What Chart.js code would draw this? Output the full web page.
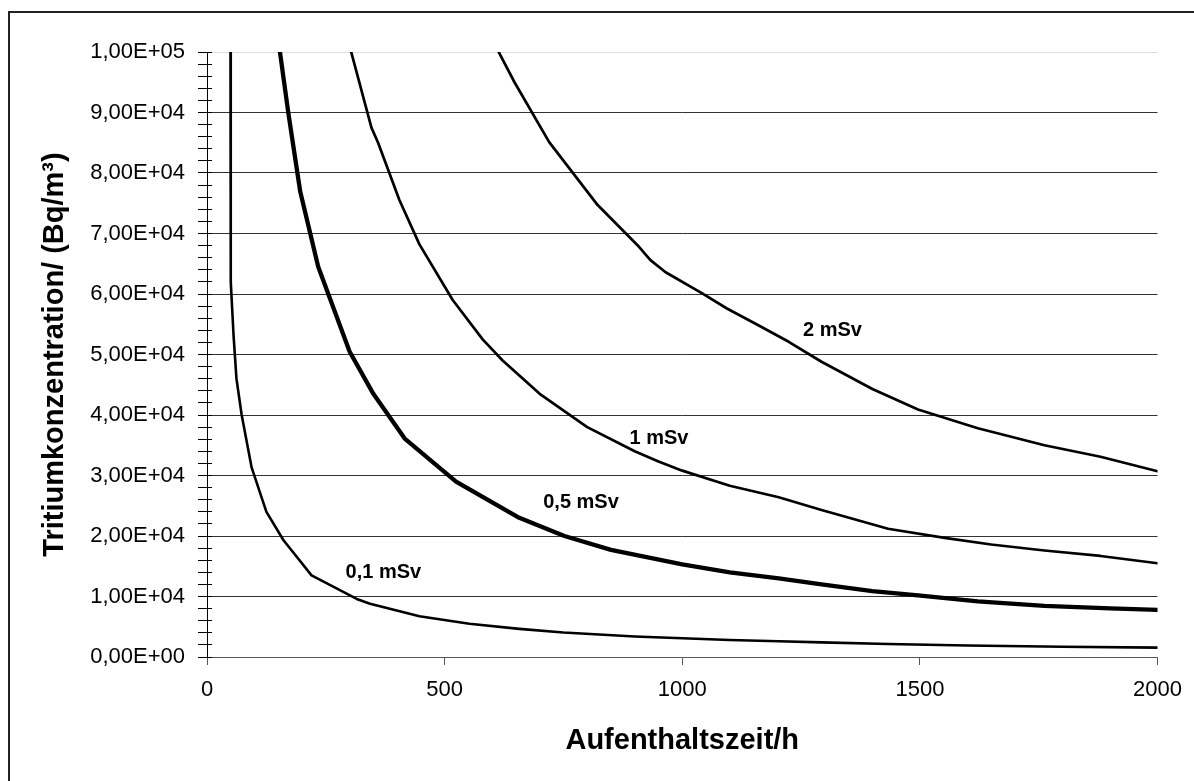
<!DOCTYPE html>
<html>
<head>
<meta charset="utf-8">
<style>
  html, body { margin: 0; padding: 0; background: #fff; }
  #wrap { width: 1194px; height: 781px; position: relative; }
</style>
<script src="https://cdn.jsdelivr.net/npm/chart.js@4.4.1/dist/chart.umd.min.js"></script>
</head>
<body>
<div id="wrap"><canvas id="c" width="1194" height="781"></canvas></div>
<script>
// ---- data ----
const seriesLabels = ['0,1 mSv', '0,5 mSv', '1 mSv', '2 mSv'];

const t01 = [49, 50, 56, 62, 73, 94, 125, 161, 220, 315, 343, 447, 552, 657, 750, 900, 1000, 1100, 1203, 1293, 1433, 1600, 1800, 2000];
const c01 = [130000, 62000, 53000, 46000, 40000, 31300, 24000, 19300, 13500, 9600, 8800, 6750, 5500, 4650, 4050, 3400, 3100, 2800, 2600, 2420, 2150, 1900, 1700, 1550];

const t05 = [150, 171, 196, 234, 300, 350, 416, 524, 657, 752, 850, 1000, 1100, 1203, 1293, 1400, 1496, 1622, 1762, 1900, 2000];
const c05 = [102000, 90000, 77000, 64500, 50500, 43500, 36100, 29000, 23000, 20000, 17700, 15300, 14000, 13000, 12000, 10900, 10200, 9200, 8450, 8050, 7800];

const t1 = [300, 346, 360, 405, 447, 517, 580, 622, 700, 800, 900, 950, 1000, 1100, 1203, 1293, 1433, 1552, 1650, 1762, 1880, 2000];
const c1 = [101000, 87500, 85000, 75500, 68200, 59000, 52500, 49000, 43500, 38000, 34000, 32300, 30800, 28300, 26400, 24300, 21200, 19700, 18600, 17600, 16700, 15500];

const t2 = [600, 615, 647, 720, 822, 909, 933, 965, 1042, 1094, 1161, 1224, 1293, 1400, 1496, 1622, 1762, 1880, 2000];
const c2 = [102500, 99800, 95000, 85100, 74700, 67800, 65600, 63600, 60100, 57600, 54800, 52100, 48800, 44300, 40900, 37800, 35000, 33100, 30700];

const xTickValues = [0, 500, 1000, 1500, 2000];
const xTickLabels = ['0', '500', '1000', '1500', '2000'];
const yTickLabels = ['0,00E+00', '1,00E+04', '2,00E+04', '3,00E+04', '4,00E+04', '5,00E+04',
                     '6,00E+04', '7,00E+04', '8,00E+04', '9,00E+04', '1,00E+05'];
const xTitle = 'Aufenthaltszeit/h';
const yTitle = 'Tritiumkonzentration/ (Bq/m³)';

// label anchors in data units (t, concentration)
const labelAnchorT = [371, 787, 951, 1316];
const labelAnchorC = [13900, 25600, 36200, 54050];

// ---- build ----
function zip(ts, cs) { return ts.map((t, i) => ({ x: t, y: cs[i] })); }
const FONT = "'Liberation Sans', Arial, Helvetica, sans-serif";
const widths = [2.6, 4.3, 2.7, 2.7];
const sets = [[t01, c01], [t05, c05], [t1, c1], [t2, c2]];

function alignPx(p, w) {
  const hw = Math.max(w / 2, 0.5);
  return Math.round(p - hw) + hw;
}

const framePlugin = {
  id: 'frame',
  beforeDraw(chart) {
    const ctx = chart.ctx;
    ctx.save();
    ctx.fillStyle = '#fff';
    ctx.fillRect(0, 0, chart.width, chart.height);
    ctx.strokeStyle = '#222';
    ctx.lineWidth = 2;
    ctx.beginPath();
    ctx.moveTo(9, chart.height + 2);
    ctx.lineTo(9, 12);
    ctx.lineTo(chart.width + 2, 12);
    ctx.stroke();
    ctx.restore();
  }
};

const innerTicksPlugin = {
  id: 'innerTicks',
  afterDatasetsDraw(chart) {
    const ys = chart.scales.y;
    const ctx = chart.ctx;
    const left = chart.chartArea.left;
    ctx.save();
    ctx.strokeStyle = '#000';
    ctx.lineWidth = 1;
    ctx.beginPath();
    ys.ticks.forEach(tk => {
      const py = alignPx(ys.getPixelForValue(tk.value), 1);
      ctx.moveTo(left, py);
      ctx.lineTo(left + 5, py);
    });
    ctx.stroke();
    ctx.restore();
  }
};

const seriesLabelPlugin = {
  id: 'seriesLabels',
  afterDatasetsDraw(chart) {
    const xs = chart.scales.x, ys = chart.scales.y;
    const ctx = chart.ctx;
    ctx.save();
    ctx.fillStyle = '#000';
    ctx.font = 'bold 20px ' + FONT;
    ctx.textAlign = 'center';
    ctx.textBaseline = 'middle';
    seriesLabels.forEach((lab, i) => {
      ctx.fillText(lab, xs.getPixelForValue(labelAnchorT[i]), ys.getPixelForValue(labelAnchorC[i]));
    });
    ctx.restore();
  }
};

new Chart(document.getElementById('c'), {
  type: 'line',
  data: {
    datasets: sets.map((s, i) => ({
      label: seriesLabels[i],
      data: zip(s[0], s[1]),
      borderColor: '#000',
      backgroundColor: '#000',
      borderWidth: widths[i],
      pointRadius: 0,
      pointHoverRadius: 0,
      tension: 0,
      fill: false,
      clip: 0,
      borderJoinStyle: 'round',
      borderCapStyle: 'round'
    }))
  },
  options: {
    responsive: false,
    devicePixelRatio: 1,
    animation: false,
    events: [],
    layout: { padding: { top: 52, right: 32, bottom: 0, left: 0 } },
    plugins: {
      legend: { display: false },
      tooltip: { enabled: false },
      title: { display: false }
    },
    scales: {
      x: {
        type: 'linear',
        min: 0,
        max: 2000,
        afterFit(scale) { scale.height = 124; },
        afterBuildTicks(scale) { scale.ticks = xTickValues.map(v => ({ value: v })); },
        ticks: {
          color: '#000',
          padding: 12,
          maxRotation: 0,
          autoSkip: false,
          font: { family: FONT, size: 22 },
          callback(v) { const i = xTickValues.indexOf(v); return i >= 0 ? xTickLabels[i] : ''; }
        },
        grid: {
          drawOnChartArea: false,
          drawTicks: true,
          tickLength: 8,
          tickColor: '#555',
          tickWidth: 1
        },
        border: { display: true, color: '#555', width: 1 },
        title: {
          display: true,
          text: xTitle,
          color: '#000',
          font: { family: FONT, size: 29, weight: 'bold' },
          padding: { top: 0, bottom: 23 }
        }
      },
      y: {
        type: 'linear',
        min: 0,
        max: 100000,
        afterFit(scale) { scale.width = 207; },
        ticks: {
          stepSize: 2000,
          autoSkip: false,
          color: '#000',
          padding: 13,
          font: { family: FONT, size: 22 },
          callback(v) { return (v % 10000 === 0) ? yTickLabels[Math.round(v / 10000)] : ''; }
        },
        grid: {
          drawTicks: true,
          tickLength: 9,
          tickColor: '#000',
          tickWidth: 1,
          lineWidth: 1,
          color(ctx) {
            const v = ctx.tick ? ctx.tick.value : null;
            if (v === null) return 'rgba(0,0,0,0)';
            if (v === 100000) return '#dddddd';
            if (v === 0) return 'rgba(0,0,0,0)';
            return (v % 10000 === 0) ? '#333' : 'rgba(0,0,0,0)';
          }
        },
        border: { display: true, color: '#000', width: 1 },
        title: {
          display: true,
          text: yTitle,
          color: '#000',
          font: { family: FONT, size: 29, weight: 'bold' },
          padding: { top: 38, bottom: 0 }
        }
      }
    }
  },
  plugins: [framePlugin, innerTicksPlugin, seriesLabelPlugin]
});
</script>
</body>
</html>
